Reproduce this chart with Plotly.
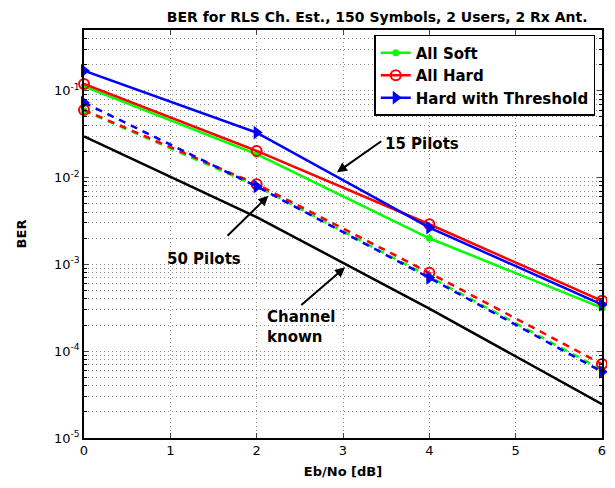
import plotly.graph_objects as go

# ---------------- data ----------------
snr = [0, 2, 4, 6]
soft_15 = [0.112, 0.0186, 0.0020, 3.15e-4]
hard_15 = [0.120, 0.0203, 0.0029, 3.8e-4]
thr_15 = [0.170, 0.033, 0.00265, 3.45e-4]
soft_50 = [0.059, 0.0080, 7.2e-4, 6.1e-5]
hard_50 = [0.060, 0.0084, 8.0e-4, 7.1e-5]
thr_50 = [0.073, 0.0079, 7.0e-4, 5.8e-5]
known = [0.0298, 0.0035, 3.1e-4, 2.45e-5]

series_names = ["All Soft", "All Hard", "Hard with Threshold"]
x_ticks = [0, 1, 2, 3, 4, 5, 6]
y_ticks = [1e-5, 1e-4, 1e-3, 1e-2, 1e-1]
y_ticktext = ["10<sup>-5</sup>", "10<sup>-4</sup>", "10<sup>-3</sup>",
              "10<sup>-2</sup>", "10<sup>-1</sup>"]
y_minor = [m * 10.0 ** e for e in range(-5, 0) for m in range(2, 10) if m * 10.0 ** e <= 0.5]

FONT = "DejaVu Sans"
GREEN, RED, BLUE = "#00ff00", "#ff0000", "#0000ff"

# the page body adds an 8px margin; size the figure so it fits the 615x488 window
FIG_W, FIG_H = 599, 472

fig = go.Figure()

styles = [
    (GREEN, dict(symbol="circle", size=7, color=GREEN)),
    (RED, dict(symbol="circle-open", size=10, color=RED, line=dict(width=2, color=RED))),
    (BLUE, dict(symbol="triangle-right", size=12, color=BLUE)),
]

# 50 pilots (dashed)
for (col, mk), ys in zip(styles, [soft_50, hard_50, thr_50]):
    fig.add_trace(go.Scatter(x=snr, y=ys, mode="lines+markers", showlegend=False,
                             cliponaxis=False,
                             line=dict(color=col, width=2.5, dash="7px,6px"), marker=mk))

# 15 pilots (solid)
for (col, mk), ys, name in zip(styles, [soft_15, hard_15, thr_15], series_names):
    fig.add_trace(go.Scatter(x=snr, y=ys, mode="lines+markers", name="<b>" + name + "</b>",
                             cliponaxis=False,
                             line=dict(color=col, width=2.5), marker=mk))

# channel known
fig.add_trace(go.Scatter(x=snr, y=known, mode="lines", showlegend=False,
                         line=dict(color="black", width=2.5)))

GRIDC = "#8c8c8c"
GDASH = "1px,3px"
grid = dict(showgrid=True, gridcolor=GRIDC, gridwidth=1, griddash=GDASH)

fig.update_xaxes(range=[0, 6], tickvals=x_ticks, ticks="inside", ticklen=5,
                 showline=True, linecolor="black", linewidth=1.5, mirror="allticks",
                 zeroline=False, automargin=False,
                 tickfont=dict(family=FONT, size=13, color="black"),
                 title=dict(text="<b>Eb/No [dB]</b>", font=dict(family=FONT, size=13, color="black"),
                            standoff=10),
                 **grid)
fig.update_yaxes(type="log", range=[-5, -0.3], tickmode="array", tickvals=y_ticks,
                 ticktext=y_ticktext, ticks="inside", ticklen=5,
                 showline=True, linecolor="black", linewidth=1.5, mirror="allticks",
                 zeroline=False, automargin=False,
                 tickfont=dict(family=FONT, size=13, color="black"),
                 title=dict(text="<b>BER</b>", font=dict(family=FONT, size=13, color="black"),
                            standoff=24),
                 minor=dict(tickmode="array", tickvals=y_minor, ticks="inside", ticklen=3,
                            tickcolor="black", showgrid=True, gridcolor=GRIDC,
                            griddash=GDASH, gridwidth=1),
                 **grid)

ann_font = dict(family=FONT, size=15, color="black")
arrow = dict(showarrow=True, arrowhead=2, arrowsize=1, arrowwidth=2, arrowcolor="black",
             axref="x", ayref="y", xref="x", yref="y", text="")
fig.update_layout(
    width=FIG_W, height=FIG_H,
    margin=dict(l=76, r=5, t=22, b=42, autoexpand=False),
    paper_bgcolor="white", plot_bgcolor="white",
    title=dict(text="<b>BER for RLS Ch. Est., 150 Symbols, 2 Users, 2 Rx Ant.</b>",
               font=dict(family=FONT, size=14, color="black"),
               x=0.566, xref="paper", xanchor="center",
               y=1 - 9.5 / FIG_H, yref="container", yanchor="middle"),
    legend=dict(x=0.987, y=0.988, xanchor="right", yanchor="top",
                bgcolor="white", bordercolor="black", borderwidth=1.5,
                font=dict(family=FONT, size=15, color="black"),
                itemwidth=30, tracegroupgap=0),
    annotations=[
        dict(x=2.93, y=-1.94, ax=3.46, ay=-1.57, **arrow),
        dict(x=3.46, y=-1.615, text="<b>15 Pilots</b>", showarrow=False, xanchor="left",
             font=ann_font),
        dict(x=2.135, y=-2.21, ax=1.645, ay=-2.687, **arrow),
        dict(x=1.39, y=-2.94, text="<b>50 Pilots</b>", showarrow=False, xanchor="center",
             font=ann_font),
        dict(x=3.024, y=-3.033, ax=2.50, ay=-3.483, **arrow),
        dict(x=2.10, y=-3.725, text="<b>Channel<br>known</b>", showarrow=False, xanchor="left",
             align="left", font=ann_font),
    ],
)

fig.write_html("out.html")
